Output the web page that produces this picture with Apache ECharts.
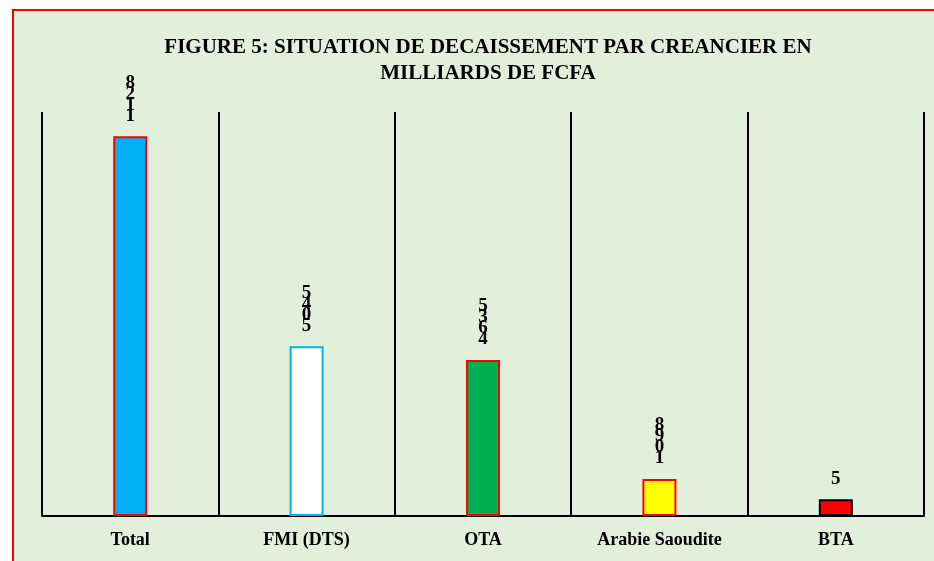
<!DOCTYPE html>
<html>
<head>
<meta charset="utf-8">
<script src="https://cdn.jsdelivr.net/npm/echarts@6/dist/echarts.min.js"></script>
<style>html,body{margin:0;padding:0;background:#fff;}#c{width:934px;height:561px;}</style>
</head>
<body>
<div id="c"></div>
<script>
var categories = ['Total', 'FMI (DTS)', 'OTA', 'Arabie Saoudite', 'BTA'];
var values = [112.8, 50.45, 46.35, 10.98, 5];
var fillColors = ['#00b0f0', '#ffffff', '#00b050', '#ffff00', '#ff0000'];
var borderColors = ['#ff0000', '#00b0f0', '#ff0000', '#ff0000', '#000000'];
var titleLines = ['FIGURE 5: SITUATION DE DECAISSEMENT PAR CREANCIER EN', 'MILLIARDS DE FCFA'];

var serif = '"Liberation Serif", "Times New Roman", serif';
var chart = echarts.init(document.getElementById('c'), null, {renderer: 'canvas'});

function stackedLabel(p) {
  var digits = String(p.value).replace(/[^0-9]/g, '').split('').reverse();
  return digits.join('\n');
}

chart.setOption({
  backgroundColor: '#ffffff',
  animation: false,
  graphic: [{
    type: 'rect', z: -10, silent: true,
    shape: {x: 13, y: 10, width: 940, height: 570},
    style: {fill: '#e2efda', stroke: '#ff0000', lineWidth: 2}
  }],
  title: {
    text: titleLines.join('\n'),
    left: 483, top: 30, textAlign: 'center',
    textStyle: {fontFamily: serif, fontWeight: 'bold', fontSize: 21, color: '#000', lineHeight: 26}
  },
  grid: {left: 42, right: 10, top: 112, bottom: 45, containLabel: false},
  xAxis: {
    type: 'category', data: categories,
    axisLine: {lineStyle: {color: '#000', width: 2}},
    axisTick: {show: false},
    axisLabel: {fontFamily: serif, fontWeight: 'bold', fontSize: 18, color: '#000', margin: 15},
    splitLine: {show: true, lineStyle: {color: '#000', width: 2}}
  },
  yAxis: {
    type: 'value', min: 0, max: 120, show: false,
    splitLine: {show: false}
  },
  series: [{
    type: 'bar', barWidth: 34,
    data: values.map(function (v, i) {
      return {value: v, itemStyle: {color: fillColors[i], borderColor: borderColors[i], borderWidth: 2}};
    }),
    label: {
      show: true, position: 'top', distance: 15,
      formatter: stackedLabel,
      fontFamily: serif, fontWeight: 'bold', fontSize: 19, lineHeight: 11, color: '#000'
    }
  }]
});
</script>
</body>
</html>
